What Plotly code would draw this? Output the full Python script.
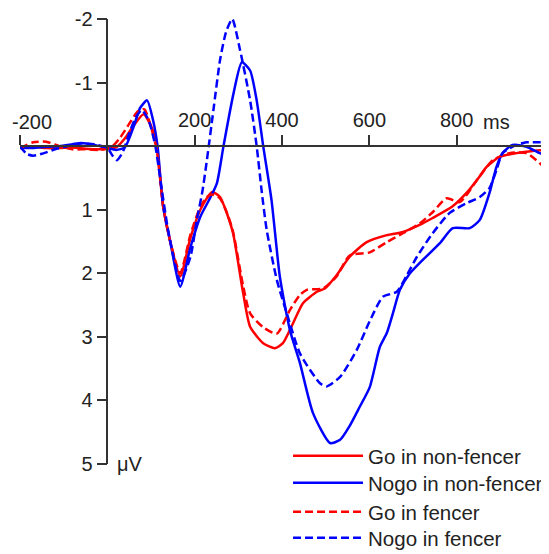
import plotly.graph_objects as go

# ---- data (time in ms, amplitude in microvolts) ----
go_nf_t = [-200,-170,-140,-110,-80,-50,-20,0,20,40,60,83,100,113,128,144,167,190,213,240,258,274,288,311,327,357,384,402,425,448,480,498,525,555,594,640,677,715,745,790,822,850,868,898,937,970,1000]
go_nf_v = [0.02,0.01,0.03,0.03,0.02,0.04,0.05,0.04,0.02,-0.12,-0.32,-0.5,-0.32,0.0,0.96,1.5,2.05,1.45,1.0,0.72,0.8,1.06,1.37,2.31,2.84,3.1,3.18,3.1,2.79,2.47,2.29,2.24,2.03,1.74,1.51,1.40,1.35,1.24,1.13,0.95,0.74,0.5,0.33,0.17,0.11,0.08,0.06]

nogo_nf_t = [-200,-170,-140,-110,-80,-60,-30,0,20,40,60,75,91,105,115,128,144,167,190,213,235,251,266,289,308,327,342,357,376,395,418,441,471,510,533,555,578,601,624,640,654,670,693,715,761,791,830,853,875,891,905,928,960,990,1000]
nogo_nf_v = [0.03,0.03,0.01,0.0,-0.03,-0.05,-0.02,0.03,0.06,0.02,-0.3,-0.6,-0.72,-0.4,0.0,0.96,1.5,2.21,1.6,1.11,0.82,0.58,0.0,-0.83,-1.32,-1.19,-0.72,0.0,0.85,2.05,2.89,3.41,4.2,4.67,4.62,4.4,4.1,3.79,3.16,2.94,2.63,2.26,2.0,1.84,1.53,1.29,1.29,1.16,0.74,0.33,0.11,-0.02,0.01,0.11,0.12]

go_f_t = [-200,-170,-140,-110,-80,-50,-20,0,15,30,50,70,85,100,113,128,144,167,190,213,228,240,258,274,288,311,327,357,388,418,441,457,494,525,555,601,640,677,715,745,777,807,850,883,921,960,1000]
go_f_v = [0.03,-0.06,-0.07,0.0,0.05,0.05,0.06,0.04,-0.02,-0.14,-0.35,-0.55,-0.58,-0.3,0.05,0.95,1.5,2.0,1.4,0.95,0.8,0.76,0.82,1.05,1.35,2.2,2.63,2.85,2.95,2.58,2.34,2.26,2.24,2.05,1.72,1.67,1.51,1.37,1.22,1.04,0.82,0.88,0.5,0.22,0.11,0.11,0.33]

nogo_f_t = [-200,-185,-170,-150,-120,-90,-60,-30,0,12,22,35,50,65,79,95,110,125,140,167,190,205,218,228,243,258,272,286,304,327,342,354,365,388,411,441,487,502,533,571,601,631,663,686,709,745,784,822,853,875,891,905,937,960,1000]
nogo_f_v = [0.0,0.12,0.15,0.12,0.05,0.0,-0.04,-0.03,0.03,0.15,0.22,0.1,-0.2,-0.45,-0.57,-0.4,0.0,0.7,1.35,2.12,1.75,1.16,0.7,0.22,-0.57,-1.35,-1.8,-2.0,-1.51,-0.72,0.0,0.74,1.32,2.1,2.63,3.26,3.73,3.78,3.63,3.21,2.75,2.37,2.29,2.03,1.74,1.37,1.05,0.9,0.8,0.66,0.38,0.11,-0.02,-0.06,-0.06]

series_names = ["Go in non-fencer", "Nogo in non-fencer", "Go in fencer", "Nogo in fencer"]

x_tickvals = [-200, 0, 200, 400, 600, 800, 1000]
x_ticktext = ["-200", "", "200", "400", "600", "800", ""]
y_tickvals = [-2, -1, 0, 1, 2, 3, 4, 5]
y_ticktext = ["-2", "-1", "", "1", "2", "3", "4", "5"]
x_unit = "ms"
y_unit = "\u03bcV"

RED = "rgb(255,0,0)"
BLUE = "rgb(0,0,255)"
FONT = "Liberation Sans, Arial, sans-serif"
TXT = "#222"

fig = go.Figure()
specs = [
    (go_nf_t, go_nf_v, RED, "solid"),
    (nogo_nf_t, nogo_nf_v, BLUE, "solid"),
    (go_f_t, go_f_v, RED, "8px,4px"),
    (nogo_f_t, nogo_f_v, BLUE, "8px,4px"),
]
legend_ids = ["legend", "legend2", "legend3", "legend4"]
for name, lid, (t, v, c, d) in zip(series_names, legend_ids, specs):
    fig.add_trace(go.Scatter(x=t, y=v, mode="lines", name=name, legend=lid,
                             line=dict(color=c, width=2.5, dash=d, shape="spline", smoothing=0.6)))

# first x tick label is drawn as an annotation so it can sit slightly right of its tick
x_ticktext_axis = [""] + x_ticktext[1:]

xr = [-200, 1000]
yr = [5, -2]

# one single-entry legend per series, stacked with the reference's row spacing
legend_rows = [0.018, -0.0427, -0.1079, -0.1663]
legend_common = dict(x=0.5115, xanchor="left", yanchor="middle",
                     font=dict(size=20.5, color=TXT), itemwidth=70,
                     bgcolor="rgba(0,0,0,0)", borderwidth=0)

# page body has an 8px margin: figure is 8px smaller than the window on each axis
fig.update_layout(
    width=541, height=546,
    margin=dict(l=12, r=5, t=11, b=90, autoexpand=False),
    paper_bgcolor="white", plot_bgcolor="white",
    font=dict(family=FONT, size=20, color=TXT),
    showlegend=True,
    xaxis=dict(range=xr, anchor="free", position=(yr[0]-0)/(yr[0]-yr[1]),
               side="top", showgrid=False, zeroline=False, showline=True,
               automargin=False, ticklabeloverflow="allow",
               linecolor="#333", linewidth=1.5, ticks="outside", ticklen=10,
               tickwidth=1.5, tickcolor="#333", tickvals=x_tickvals, ticktext=x_ticktext_axis),
    yaxis=dict(range=yr, anchor="free", position=(0-xr[0])/(xr[1]-xr[0]),
               showgrid=False, zeroline=False, showline=True,
               automargin=False, ticklabeloverflow="allow",
               linecolor="#333", linewidth=1.5, ticks="outside", ticklen=10,
               tickwidth=1.5, tickcolor="#333", tickvals=y_tickvals, ticktext=y_ticktext),
)
for lid, ypos in zip(legend_ids, legend_rows):
    fig.update_layout({lid: dict(legend_common, y=ypos)})

fig.add_annotation(x=x_tickvals[0], y=0, text=x_ticktext[0], showarrow=False, xanchor="center",
                   yanchor="middle", xshift=12, yshift=24, font=dict(size=20, color=TXT))
fig.add_annotation(x=800, y=0, text=x_unit, showarrow=False, xanchor="left",
                   yanchor="middle", xshift=24, yshift=24, font=dict(size=20, color=TXT))
fig.add_annotation(x=0, y=5, text=y_unit, showarrow=False, xanchor="left",
                   yanchor="middle", xshift=8, font=dict(size=20, color=TXT))
fig.write_html("out.html")
